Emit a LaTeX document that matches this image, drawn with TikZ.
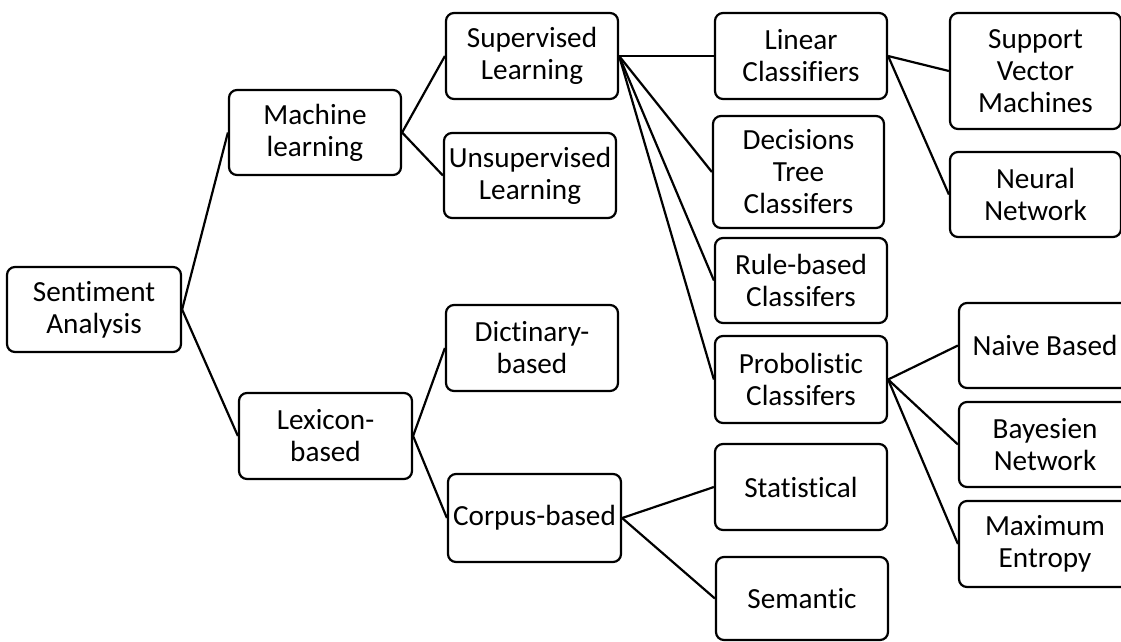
\documentclass[tikz,border=0pt]{standalone}
\usepackage{fontspec}
\setmainfont{Carlito}[RawFeature={-liga;-clig;-dlig;-calt}]
\begin{document}
\begin{tikzpicture}[x=1pt,y=-1pt,
  box/.style={draw=black, line width=2.2pt, rounded corners=8pt, align=center,
    inner sep=0pt, font=\fontsize{29.2}{32}\selectfont},
  link/.style={line width=2.2pt, black}]
\useasboundingbox (0,0) rectangle (1121,641);
\clip (0,0) rectangle (1121,641);
% level 0
\node[box, minimum width=174pt, minimum height=85pt] (sa) at (94,309.5) {Sentiment\\Analysis};
% level 1
\node[box, minimum width=172pt, minimum height=85pt] (ml) at (315,132.5) {Machine\\learning};
\node[box, minimum width=173pt, minimum height=86pt] (lex) at (325.5,436) {Lexicon-\\based};
% level 2
\node[box, minimum width=172pt, minimum height=86pt] (sl) at (532,56) {Supervised\\Learning};
\node[box, minimum width=172pt, minimum height=85pt] (usl) at (530,175.5) {Unsupervised\\Learning};
\node[box, minimum width=172pt, minimum height=86pt] (dict) at (532,348) {Dictinary-\\based};
\node[box, minimum width=173pt, minimum height=88pt] (corp) at (534.5,518) {Corpus-based};
% level 3
\node[box, minimum width=172pt, minimum height=86pt] (lin) at (801,56) {Linear\\Classifiers};
\node[box, minimum width=171pt, minimum height=112pt] (dec) at (798.5,172) {Decisions\\Tree\\Classifers};
\node[box, minimum width=172pt, minimum height=85pt] (rule) at (801,280.5) {Rule-based\\Classifers};
\node[box, minimum width=172pt, minimum height=87pt] (prob) at (801,379.5) {Probolistic\\Classifers};
\node[box, minimum width=172pt, minimum height=86pt] (stat) at (801,487) {Statistical};
\node[box, minimum width=172pt, minimum height=83pt] (sem) at (802,598.5) {Semantic};
% level 4
\node[box, minimum width=171pt, minimum height=116pt] (svm) at (1035.5,71) {Support\\Vector\\Machines};
\node[box, minimum width=171pt, minimum height=85pt] (nn) at (1035.5,194.5) {Neural\\Network};
\node[box, minimum width=172pt, minimum height=85pt] (nb) at (1045,345.5) {Naive Based};
\node[box, minimum width=172pt, minimum height=85pt] (bn) at (1045,444.5) {Bayesien\\Network};
\node[box, minimum width=172pt, minimum height=86pt] (me) at (1045,544) {Maximum\\Entropy};
% connectors
\draw[link] (sa.east) -- (ml.west);
\draw[link] (sa.east) -- (lex.west);
\draw[link] (ml.east) -- (sl.west);
\draw[link] (ml.east) -- (usl.west);
\draw[link] (lex.east) -- (dict.west);
\draw[link] (lex.east) -- (corp.west);
\draw[link] (sl.east) -- (lin.west);
\draw[link] (sl.east) -- (dec.west);
\draw[link] (sl.east) -- (rule.west);
\draw[link] (sl.east) -- (prob.west);
\draw[link] (corp.east) -- (stat.west);
\draw[link] (corp.east) -- (sem.west);
\draw[link] (lin.east) -- (svm.west);
\draw[link] (lin.east) -- (nn.west);
\draw[link] (prob.east) -- (nb.west);
\draw[link] (prob.east) -- (bn.west);
\draw[link] (prob.east) -- (me.west);
\end{tikzpicture}
\end{document}
